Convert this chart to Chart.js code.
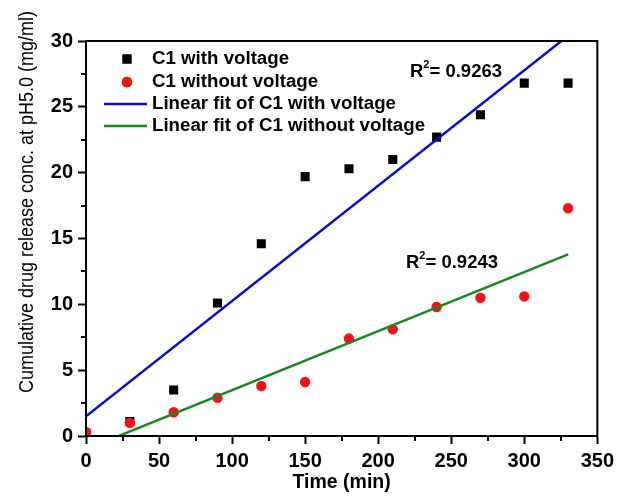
<!DOCTYPE html>
<html lang="en">
<head>
<meta charset="utf-8">
<title>Cumulative drug release</title>
<script src="https://cdn.jsdelivr.net/npm/chart.js"></script>
<style>
  html, body { margin: 0; padding: 0; background: #fff; }
  #wrap { width: 619px; height: 498px; }
</style>
</head>
<body>
<div id="wrap"><canvas id="releaseChart" width="619" height="498"></canvas></div>
<script>
  // sampling times (min)
  const times = [0, 30, 60, 90, 120, 150, 180, 210, 240, 270, 300, 330];
  // cumulative release (mg/ml)
  const withVoltage = [0.2, 1.1, 3.5, 10.1, 14.6, 19.7, 20.3, 21.0, 22.7, 24.4, 26.8, 26.8];
  const withoutVoltage = [0.3, 1.0, 1.8, 2.9, 3.8, 4.1, 7.4, 8.1, 9.8, 10.5, 10.6, 17.3];
  // linear fit end points
  const fitTimes = [0, 330];
  const fitWithVoltage = [1.5, 30.4];
  const fitWithoutVoltage = [-1.0, 13.8];
  const r2Values = ['0.9263', '0.9243'];

  const FONT = "'Liberation Sans', Arial, sans-serif";
  const toPoints = (xs, ys) => xs.map((x, i) => ({ x: x, y: ys[i] }));

  const decorPlugin = {
    id: 'decor',
    afterDraw(chart) {
      const ctx = chart.ctx;
      const area = chart.chartArea;
      const xs = chart.scales.x;
      const ys = chart.scales.y;
      ctx.save();

      // frame
      ctx.strokeStyle = '#000';
      ctx.lineWidth = 2;
      ctx.strokeRect(area.left, area.top, area.right - area.left, area.bottom - area.top);

      // minor ticks
      ctx.beginPath();
      for (let v = 25; v < 350; v += 50) {
        const px = Math.round(xs.getPixelForValue(v));
        ctx.moveTo(px, area.bottom);
        ctx.lineTo(px, area.bottom + 5);
      }
      for (let v = 2.5; v < 30; v += 5) {
        const py = Math.round(ys.getPixelForValue(v));
        ctx.moveTo(area.left, py);
        ctx.lineTo(area.left - 5, py);
      }
      ctx.stroke();

      // legend
      const ds = chart.data.datasets;
      const legendRows = [59, 82, 104, 126];
      ctx.font = 'bold 18.7px ' + FONT;
      ctx.textBaseline = 'middle';
      ctx.textAlign = 'left';
      ds.forEach((d, i) => {
        const y = legendRows[i];
        if (d.showLine === false) {
          Chart.helpers.drawPoint(ctx, {
            pointStyle: d.pointStyle, radius: d.pointRadius, borderWidth: 0
          }, 127, y);
          ctx.fillStyle = d.backgroundColor;
          ctx.fill();
        } else {
          ctx.strokeStyle = d.borderColor;
          ctx.lineWidth = d.borderWidth;
          ctx.beginPath();
          ctx.moveTo(104, y);
          ctx.lineTo(147, y);
          ctx.stroke();
        }
        ctx.fillStyle = '#000';
        ctx.fillText(d.label, 152, y);
      });

      // R squared labels
      const drawR2 = (x, y, val) => {
        ctx.fillStyle = '#000';
        ctx.font = 'bold 18.5px ' + FONT;
        ctx.fillText('R', x, y);
        let w = ctx.measureText('R').width;
        ctx.font = 'bold 11px ' + FONT;
        ctx.fillText('2', x + w, y - 7);
        w += ctx.measureText('2').width;
        ctx.font = 'bold 18.5px ' + FONT;
        ctx.fillText('= ' + val, x + w, y);
      };
      drawR2(410, 72, r2Values[0]);
      drawR2(406, 263, r2Values[1]);

      // axis titles
      ctx.fillStyle = '#000';
      ctx.textAlign = 'center';
      ctx.font = 'bold 19.5px ' + FONT;
      ctx.fillText('Time (min)', (area.left + area.right) / 2, 483);
      ctx.translate(27, 202);
      ctx.rotate(-Math.PI / 2);
      ctx.scale(1, 1.12);
      ctx.font = '18px ' + FONT;
      ctx.fillText('Cumulative drug release conc. at pH5.0 (mg/ml)', 0, 0);
      ctx.restore();
    }
  };

  const ctx = document.getElementById('releaseChart').getContext('2d');
  const releaseChart = new Chart(ctx, {
    type: 'scatter',
    data: {
      datasets: [
        {
          label: 'C1 with voltage',
          data: toPoints(times, withVoltage),
          showLine: false,
          pointStyle: 'rect',
          pointRadius: 6.4,
          backgroundColor: '#000',
          borderWidth: 0,
          order: 2
        },
        {
          label: 'C1 without voltage',
          data: toPoints(times, withoutVoltage),
          showLine: false,
          pointStyle: 'circle',
          pointRadius: 5.2,
          backgroundColor: '#f51212',
          borderWidth: 0,
          order: 1
        },
        {
          label: 'Linear fit of C1 with voltage',
          data: toPoints(fitTimes, fitWithVoltage),
          showLine: true,
          pointRadius: 0,
          borderColor: '#0b0bc8',
          borderWidth: 2.5,
          order: 0
        },
        {
          label: 'Linear fit of C1 without voltage',
          data: toPoints(fitTimes, fitWithoutVoltage),
          showLine: true,
          pointRadius: 0,
          borderColor: '#17881a',
          borderWidth: 2.5,
          order: 0
        }
      ]
    },
    options: {
      responsive: false,
      animation: false,
      devicePixelRatio: 1,
      layout: { padding: { top: 41, right: 21, left: 0, bottom: 0 } },
      plugins: {
        legend: { display: false },
        tooltip: { enabled: false }
      },
      scales: {
        x: {
          type: 'linear',
          min: 0,
          max: 350,
          afterFit: (scale) => { scale.height = 62; },
          ticks: {
            stepSize: 50,
            padding: 5,
            color: '#000',
            font: { family: FONT, size: 20, weight: 'bold' }
          },
          grid: {
            drawOnChartArea: false,
            drawTicks: true,
            tickLength: 8,
            tickWidth: 2,
            tickColor: '#000'
          },
          border: { color: '#000', width: 2 }
        },
        y: {
          type: 'linear',
          min: 0,
          max: 30,
          afterFit: (scale) => { scale.width = 86; },
          ticks: {
            stepSize: 5,
            padding: 5,
            color: '#000',
            font: { family: FONT, size: 20, weight: 'bold' }
          },
          grid: {
            drawOnChartArea: false,
            drawTicks: true,
            tickLength: 8,
            tickWidth: 2,
            tickColor: '#000'
          },
          border: { color: '#000', width: 2 }
        }
      }
    },
    plugins: [decorPlugin]
  });
</script>
</body>
</html>
